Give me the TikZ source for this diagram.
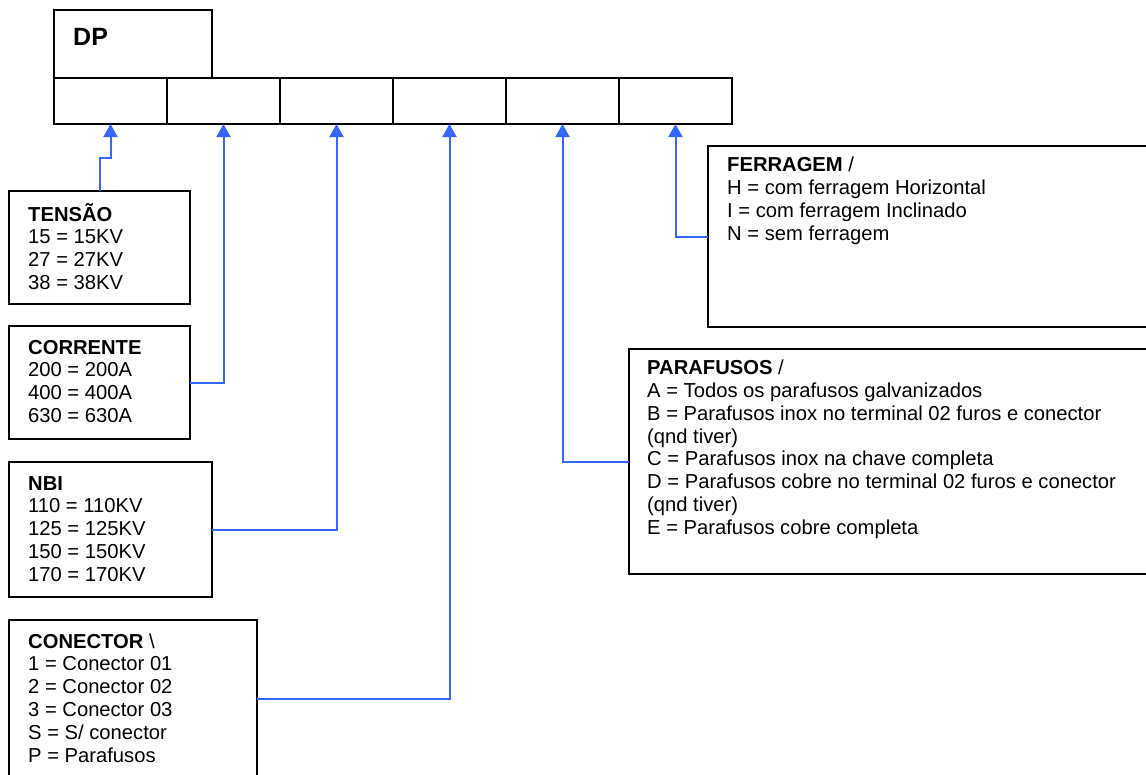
\documentclass[tikz,border=0pt]{standalone}
\usepackage{fontspec}
\setmainfont{Liberation Sans}
\usetikzlibrary{arrows.meta}
\definecolor{linkblue}{RGB}{51,102,255}

\begin{document}
\begin{tikzpicture}[x=1pt,y=-1pt]
                \tikzset{Box/.style={draw=black, line width=2pt, rectangle, inner sep=0pt, outer sep=0pt, anchor=north west}}
                \tikzset{Cell/.style={Box, minimum width=113pt, minimum height=46pt}}
                \tikzset{Legend/.style={anchor=north west, inner sep=0pt, align=left, font=\fontsize{20.2}{22.8}\selectfont}}
                \tikzset{Link/.style={draw=linkblue, line width=2pt, -{Triangle[length=13pt,width=14pt]}}}

                \clip (0,0) rectangle (1146,774);

                \node[Box, minimum width=158pt, minimum height=68pt] (dp) at (54,10) {};
                \node[anchor=base west, inner sep=0pt, font=\fontsize{25}{30}\selectfont\bfseries] (dp-label) at (73,45) {DP};

                \foreach \i in {1,...,6}
                    \node[Cell] (c\i) at ({54+113*(\i-1)},78) {};

                \node[Box, minimum width=181pt, minimum height=113pt] (tensao) at (9,191) {};
                \node[Legend] (tensao-text) at ([shift={(19,12)}]tensao.north west)
                    {\strut\textbf{TENSÃO}\\ 15 = 15KV\\ 27 = 27KV\\ 38 = 38KV};

                \node[Box, minimum width=181pt, minimum height=113pt] (corrente) at (9,326) {};
                \node[Legend] (corrente-text) at ([shift={(19,12)}]corrente.north west)
                    {\strut\textbf{CORRENTE}\\ 200 = 200A\\ 400 = 400A\\ 630 = 630A};

                \node[Box, minimum width=203pt, minimum height=135pt] (nbi) at (9,462) {};
                \node[Legend] (nbi-text) at ([shift={(19,12)}]nbi.north west)
                    {\strut\textbf{NBI}\\ 110 = 110KV\\ 125 = 125KV\\ 150 = 150KV\\ 170 = 170KV};

                \node[Box, minimum width=248pt, minimum height=158pt] (conector) at (9,620) {};
                \node[Legend] (conector-text) at ([shift={(19,12)}]conector.north west)
                    {\strut\textbf{CONECTOR} \textbackslash\\ 1 = Conector 01\\ 2 = Conector 02\\ 3 = Conector 03\\ S = S/ conector\\ P = Parafusos};

                \node[Box, minimum width=445pt, minimum height=181pt] (ferragem) at (708,146) {};
                \node[Legend] (ferragem-text) at ([shift={(19,9.5)}]ferragem.north west)
                    {\strut\textbf{FERRAGEM} /\\ H = com ferragem Horizontal\\ I = com ferragem Inclinado\\ N = sem ferragem};

                \node[Box, minimum width=524pt, minimum height=225pt] (parafusos) at (629,349) {};
                \node[Legend] (parafusos-text) at ([shift={(18,9.5)}]parafusos.north west)
                    {\strut\textbf{PARAFUSOS} /\\ A = Todos os parafusos galvanizados\\ B = Parafusos inox no terminal 02 furos e conector\\ (qnd tiver)\\ C = Parafusos inox na chave completa\\ D = Parafusos cobre no terminal 02 furos e conector\\ (qnd tiver)\\ E = Parafusos cobre completa};

                \draw[Link] (tensao.north) -- ++(0,-33) -| (c1.south);
                \draw[Link] (corrente.east) -| (c2.south);
                \draw[Link] (nbi.east) -| (c3.south);
                \draw[Link] (conector.east) -| (c4.south);
                \draw[Link] (parafusos.west) -| (c5.south);
                \draw[Link] (ferragem.west) -| (c6.south);
\end{tikzpicture}
\end{document}
